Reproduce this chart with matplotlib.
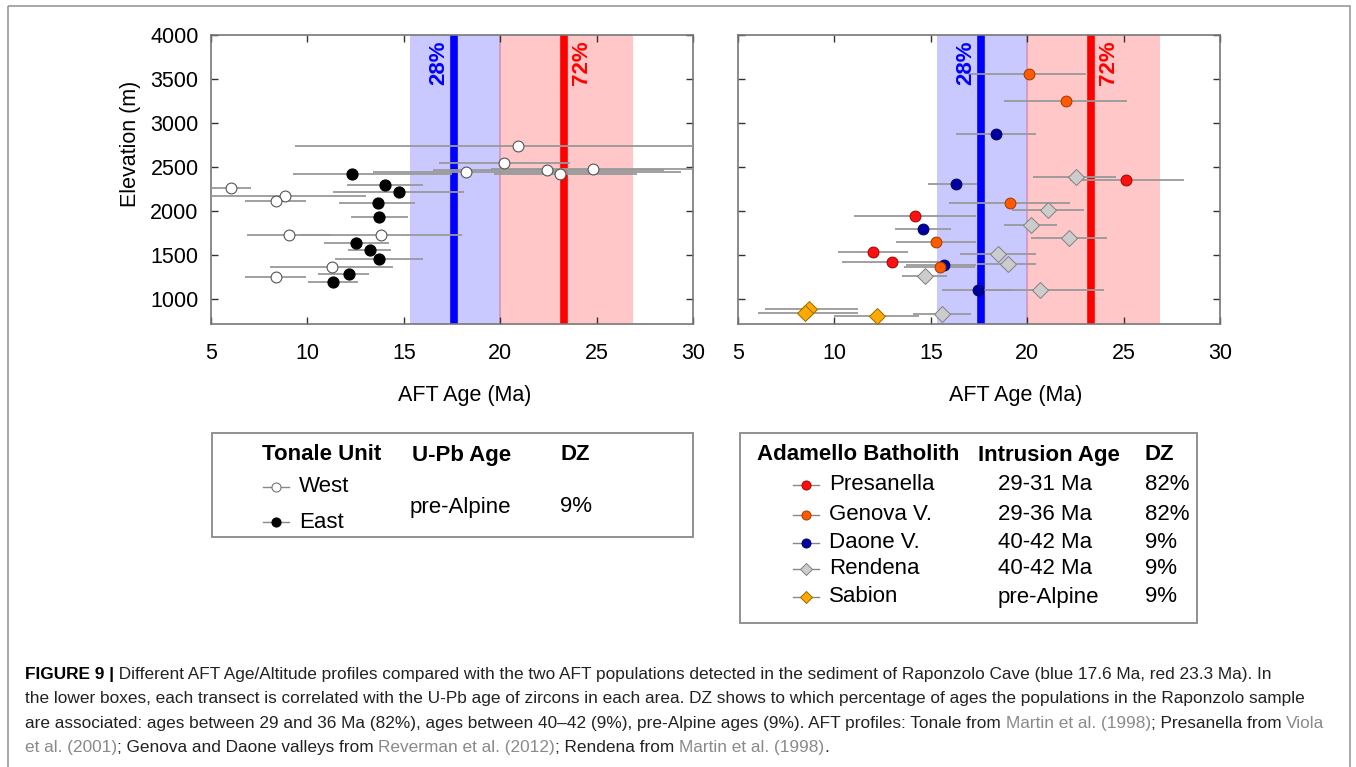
import numpy as np
import matplotlib.pyplot as plt
from matplotlib.patches import Rectangle

plt.rcParams['font.family'] = ['Liberation Sans', 'DejaVu Sans']

# populations detected in the Raponzolo sediment (Ma)
blue_pop, blue_band = 17.6, (15.3, 20.05)
red_pop, red_band = 23.3, (19.95, 26.9)

# ---- Tonale unit (left panel): age, elevation, error bar low / high ----
west_age = [20.94, 20.21, 18.21, 22.41, 23.10, 24.83, 6.04, 8.85, 8.37, 9.03, 13.82, 11.26, 8.37]
west_elev = [2743, 2546, 2443, 2461, 2424, 2481, 2261, 2173, 2108, 1721, 1721, 1368, 1254]
west_lo = [9.36, 16.84, 13.4, 16.5, 19.7, 19.5, 4.5, 4.0, 6.76, 6.85, 9.62, 8.06, 6.76]
west_hi = [31.0, 23.62, 29.4, 28.5, 27.1, 30.5, 7.06, 13.02, 9.93, 11.22, 18.03, 14.42, 9.93]

east_age = [12.33, 14.04, 14.74, 13.66, 13.73, 12.54, 13.25, 13.73, 12.14, 11.33]
east_elev = [2424, 2298, 2211, 2090, 1930, 1641, 1558, 1452, 1288, 1193]
east_lo = [9.27, 12.04, 11.34, 11.65, 12.25, 10.86, 12.12, 11.43, 10.57, 10.05]
east_hi = [17.5, 16.01, 18.12, 15.58, 15.2, 14.23, 14.34, 16.01, 13.21, 12.64]

# ---- Adamello batholith (right panel) ----
pres_age = [25.15, 14.19, 12.0, 13.0]
pres_elev = [2348, 1938, 1532, 1425]
pres_lo = [22.2, 11.02, 10.2, 10.4]
pres_hi = [28.14, 17.37, 13.8, 15.7]

gen_age = [20.1, 22.0, 19.11, 15.29, 15.47]
gen_elev = [3556, 3248, 2090, 1652, 1367]
gen_lo = [16.95, 18.8, 15.95, 13.2, 13.6]
gen_hi = [23.07, 25.17, 22.2, 17.37, 17.3]

dao_age = [18.4, 16.3, 14.6, 15.69, 17.47]
dao_elev = [2880, 2311, 1798, 1390, 1096]
dao_lo = [16.33, 14.86, 13.15, 13.7, 15.6]
dao_hi = [20.45, 17.42, 16.04, 17.33, 19.3]

ren_age = [22.52, 21.1, 20.19, 22.17, 18.5, 19.0, 14.7, 20.67, 15.6]
ren_elev = [2386, 2007, 1836, 1691, 1514, 1400, 1262, 1096, 829]
ren_lo = [20.3, 19.2, 18.8, 20.19, 16.5, 17.4, 13.5, 17.4, 14.1]
ren_hi = [24.6, 22.95, 21.57, 24.16, 20.45, 20.45, 15.86, 24.0, 17.07]

sab_age = [8.7, 8.5, 12.2]
sab_elev = [880, 845, 807]
sab_lo = [6.4, 6.06, 10.0]
sab_hi = [11.2, 11.2, 14.4]

x_ticks = [5, 10, 15, 20, 25, 30]
y_ticks = [1000, 1500, 2000, 2500, 3000, 3500, 4000]

W, H = 1356, 767
fig = plt.figure(figsize=(W / 100, H / 100), dpi=100)

# overlay in pixel coordinates for boxes and caption
ov = fig.add_axes([0, 0, 1, 1])
ov.set_xlim(0, W)
ov.set_ylim(H, 0)
ov.axis('off')
ov.add_patch(Rectangle((8, 6), 1342, 780, fill=False, ec='#999999', lw=1.2, clip_on=False))

ax1 = fig.add_axes([211 / W, 1 - 324 / H, 482 / W, 289 / H])
ax2 = fig.add_axes([738 / W, 1 - 324 / H, 482 / W, 289 / H])


def xerr(age, lo, hi):
    a = np.array(age)
    return [a - np.array(lo), np.array(hi) - a]


for ax in (ax1, ax2):
    ax.axvspan(*blue_band, color='#0000ff', alpha=0.21, lw=0, zorder=0)
    ax.axvspan(*red_band, color='#ff0000', alpha=0.22, lw=0, zorder=0)
    ax.axvline(blue_pop, color='#0000ff', lw=5.5, zorder=1)
    ax.axvline(red_pop, color='#ff0000', lw=5.5, zorder=1)
    ax.text(16.8, 3935, '28%', color='#0000ff', rotation=90, ha='center', va='top',
            fontsize=16, fontweight='bold', zorder=5)
    ax.text(24.2, 3935, '72%', color='#ff0000', rotation=90, ha='center', va='top',
            fontsize=16, fontweight='bold', zorder=5)
    ax.set_xlim(5, 30)
    ax.set_ylim(715, 4000)
    ax.set_xticks(x_ticks)
    ax.set_yticks(y_ticks)
    ax.tick_params(direction='in', top=True, right=True, length=5, width=1,
                   color='#333333', labelsize=15.5, pad=9)
    ax.tick_params(axis='x', pad=14)
    for s in ax.spines.values():
        s.set_color('#777777')
        s.set_linewidth(1.2)
    ax.set_xlabel('AFT Age (Ma)', fontsize=15.5)

ax1.set_ylabel('Elevation (m)', fontsize=15.5)
ax1.yaxis.set_label_coords(-0.145, 0.623)
ax1.xaxis.set_label_coords(0.527, -0.21)
ax2.xaxis.set_label_coords(0.577, -0.21)
ax2.set_yticklabels([])

eb = dict(ecolor='#999999', elinewidth=1.3, capsize=0, ls='none')
ax1.errorbar(west_age, west_elev, xerr=xerr(west_age, west_lo, west_hi), fmt='o', ms=7.8,
             mfc='white', mec='#555555', mew=0.8, zorder=3, **eb)
ax1.errorbar(east_age, east_elev, xerr=xerr(east_age, east_lo, east_hi), fmt='o', ms=7.8,
             mfc='black', mec='black', zorder=3, **eb)

series = [
    (sab_age, sab_elev, sab_lo, sab_hi, 'D', '#ffaa00', '#9a6a00', 8.5),
    (ren_age, ren_elev, ren_lo, ren_hi, 'D', '#cccccc', '#808080', 8.5),
    (dao_age, dao_elev, dao_lo, dao_hi, 'o', '#0000a0', '#000060', 7.8),
    (gen_age, gen_elev, gen_lo, gen_hi, 'o', '#ff5a00', '#a03a00', 7.8),
    (pres_age, pres_elev, pres_lo, pres_hi, 'o', '#ff1010', '#a00000', 7.8),
]
for age, elev, lo, hi, mk, fc, ec, ms in series:
    ax2.errorbar(age, elev, xerr=xerr(age, lo, hi), fmt=mk, ms=ms, mfc=fc, mec=ec,
                 mew=0.7, zorder=3, **eb)

# ---- lower boxes ----
fs = 16
ov.add_patch(Rectangle((212, 433), 481, 104, fill=False, ec='#888888', lw=1.3))
ov.text(262, 455, 'Tonale Unit', fontsize=fs, fontweight='bold', va='center')
ov.text(412, 455, 'U-Pb Age', fontsize=fs, fontweight='bold', va='center')
ov.text(560, 455, 'DZ', fontsize=fs, fontweight='bold', va='center')
for y, label, fc, ec in [(487, 'West', 'white', '#777777'), (522, 'East', 'black', 'black')]:
    ov.plot([263, 289], [y, y], color='#888888', lw=1)
    ov.plot([276], [y], marker='o', ms=6.5, mfc=fc, mec=ec, mew=0.8)
    ov.text(299, y, label, fontsize=fs, va='center')
ov.text(410, 507, 'pre-Alpine', fontsize=fs, va='center')
ov.text(560, 507, '9%', fontsize=fs, va='center')

ov.add_patch(Rectangle((740, 433), 457, 190, fill=False, ec='#888888', lw=1.3))
ov.text(757, 455, 'Adamello Batholith', fontsize=fs, fontweight='bold', va='center')
ov.text(978, 455, 'Intrusion Age', fontsize=fs, fontweight='bold', va='center')
ov.text(1145, 455, 'DZ', fontsize=fs, fontweight='bold', va='center')
rows = [
    ('Presanella', '29-31 Ma', '82%', 'o', '#ff1010', '#a00000'),
    ('Genova V.', '29-36 Ma', '82%', 'o', '#ff5a00', '#a03a00'),
    ('Daone V.', '40-42 Ma', '9%', 'o', '#0000a0', '#000060'),
    ('Rendena', '40-42 Ma', '9%', 'D', '#cccccc', '#808080'),
    ('Sabion', 'pre-Alpine', '9%', 'D', '#ffaa00', '#9a6a00'),
]
row_y = [485, 515, 543, 569, 597]
for y, (name, age, dz, mk, fc, ec) in zip(row_y, rows):
    ov.plot([793, 819], [y, y], color='#888888', lw=1)
    ov.plot([806], [y], marker=mk, ms=6.5 if mk == 'o' else 6, mfc=fc, mec=ec, mew=0.7)
    ov.text(829, y, name, fontsize=fs, va='center')
    ov.text(998, y, age, fontsize=fs, va='center')
    ov.text(1145, y, dz, fontsize=fs, va='center')

# ---- caption ----
cfs = 12.45
grey = '#8a8a8a'
lines = [
    [('FIGURE 9 |', 'bold', 'black'),
     (' Different AFT Age/Altitude profiles compared with the two AFT populations detected in the sediment of Raponzolo Cave (blue 17.6 Ma, red 23.3 Ma). In', 'normal', '#222222')],
    [('the lower boxes, each transect is correlated with the U-Pb age of zircons in each area. DZ shows to which percentage of ages the populations in the Raponzolo sample', 'normal', '#222222')],
    [('are associated: ages between 29 and 36 Ma (82%), ages between 40\u201342 (9%), pre-Alpine ages (9%). AFT profiles: Tonale from ', 'normal', '#222222'),
     ('Martin et al. (1998)', 'normal', grey),
     ('; Presanella from ', 'normal', '#222222'),
     ('Viola', 'normal', grey)],
    [('et al. (2001)', 'normal', grey),
     ('; Genova and Daone valleys from ', 'normal', '#222222'),
     ('Reverman et al. (2012)', 'normal', grey),
     ('; Rendena from ', 'normal', '#222222'),
     ('Martin et al. (1998)', 'normal', grey),
     ('.', 'normal', '#222222')],
]
cap_y = [682, 706, 731, 755]
for y, pieces in zip(cap_y, lines):
    prev = None
    for txt, wt, col in pieces:
        if prev is None:
            prev = ov.text(25, y, txt, fontsize=cfs, fontweight=wt, color=col, va='bottom', ha='left')
        else:
            prev = ov.annotate(txt, xy=(1, 0), xycoords=prev, fontsize=cfs, fontweight=wt,
                               color=col, va='bottom', ha='left')

fig.savefig('out.png', dpi=100)
